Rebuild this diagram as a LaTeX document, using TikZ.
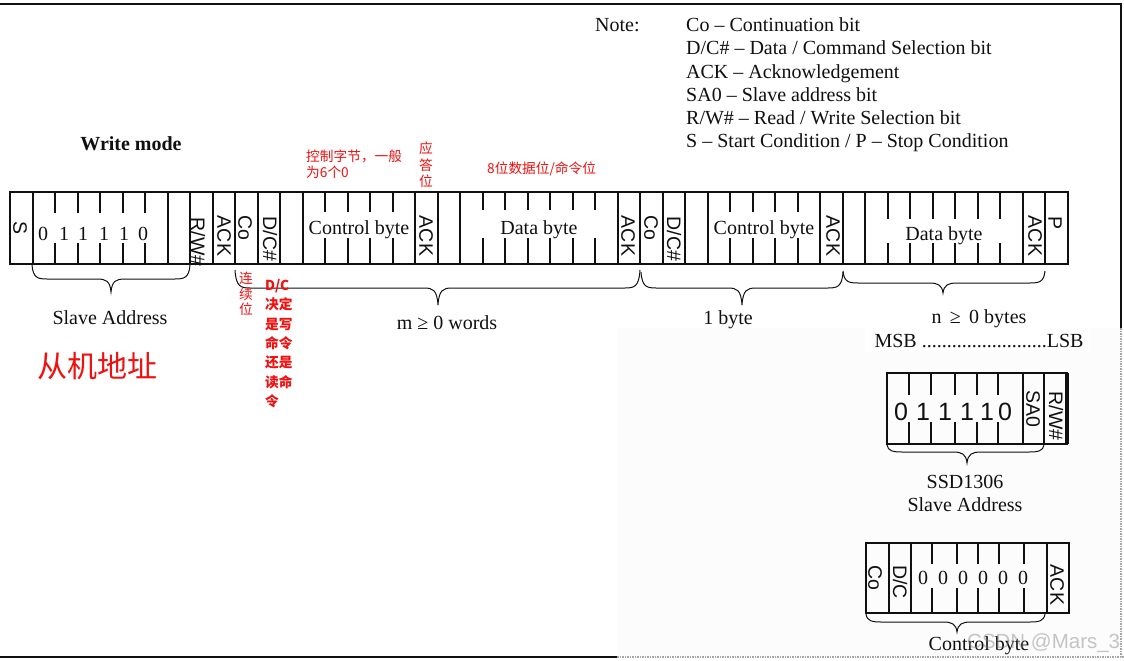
\documentclass[tikz,border=0pt]{standalone}
\usepackage{fontspec}
\setmainfont{Liberation Serif}
\newfontfamily\arialf{Liberation Sans}
\newfontfamily\cjkf{Noto Sans CJK SC}
\usetikzlibrary{calc}
\definecolor{redtxt}{HTML}{F01010}
\definecolor{ink}{HTML}{101010}
\tikzset{
  frameline/.style={draw=ink,line width=2pt},
  dotline/.style={draw=gray!70,line width=1.2pt,dash pattern=on 1.5pt off 1pt},
  barbox/.style={draw=ink,line width=2.6pt},
  tick/.style={draw=ink,line width=2pt},
  bracel/.style={draw=ink,line width=1pt},
  ser/.style={font=\fontsize{20}{23}\selectfont,text=ink,inner sep=0pt,anchor=base},
  serl/.style={ser,anchor=base west},
  rot/.style={font=\arialf\fontsize{19.5}{19.5}\selectfont,text=ink,inner sep=0pt,rotate=-90,anchor=center},
  bigd/.style={font=\arialf\fontsize{25}{25}\selectfont,text=ink,inner sep=0pt,anchor=center},
  redn/.style={font=\cjkf\fontsize{13.7}{16}\selectfont,text=redtxt,inner sep=0pt,anchor=north west,align=left},
  patch/.style={fill=white,draw=none},
}
% brace: x1 x2 xmid yend yline ytip
\newcommand{\bracep}[6]{\draw[bracel] (#1,#4) .. controls ({#1+1},{#5-1}) and ({#1+6},#5) .. ({#1+15},#5) -- ({#3-14},#5) .. controls ({#3-5},#5) and ({#3-1},{#5+2}) .. (#3,#6) .. controls ({#3+1},{#5+2}) and ({#3+5},#5) .. ({#3+14},#5) -- ({#2-15},#5) .. controls ({#2-6},#5) and ({#2-1},{#5-1}) .. (#2,#4);}
\begin{document}
\begin{tikzpicture}[x=1pt,y=-1pt]
\useasboundingbox (0,0) rectangle (1124,661);
\fill[white] (0,0) rectangle (1124,661);
\fill[black!1] (617,328) rectangle (1121,657);
\fill[white] (865,327) rectangle (1090,352);
% frame
\draw[frameline] (0,4) -- (1121,4) -- (1121,328);
\draw[frameline] (0,657) -- (617,657);
\draw[dotline] (1121,328) -- (1121,657);
\draw[dotline] (617,657) -- (1124,657);
% main bar
\foreach \i in {1,7,8,...,13,18,19,20,27,28,...,31,36,37,38,45,46}
  {\pgfmathsetmacro{\xx}{10+22.51*\i}\draw[tick] (\xx,192) -- (\xx,264);}
\foreach \i in {2,...,6}
  {\pgfmathsetmacro{\xx}{10+22.51*\i}\draw[tick] (\xx,192) -- (\xx,213);\draw[tick] (\xx,243) -- (\xx,264);}
\foreach \i in {14,...,17,32,33,34,35}
  {\pgfmathsetmacro{\xx}{10+22.51*\i}\draw[tick] (\xx,192) -- (\xx,212);\draw[tick] (\xx,238) -- (\xx,264);}
\foreach \i in {21,...,26}
  {\pgfmathsetmacro{\xx}{10+22.51*\i}\draw[tick] (\xx,192) -- (\xx,210);\draw[tick] (\xx,238) -- (\xx,264);}
\foreach \i in {39,...,44}
  {\pgfmathsetmacro{\xx}{10+22.51*\i}\draw[tick] (\xx,192) -- (\xx,219);\draw[tick] (\xx,243) -- (\xx,264);}
\draw[barbox] (10,192) rectangle (1068,264);
% main bar labels
\node[rot] (s) at (20,228) {S};
\foreach \x/\d/\n in {43/0/a,64/1/b,83/1/c,104/1/d,124/1/e,143/0/f}
  \node[ser] (bit\n) at (\x,240) {\d};
\node[rot] (rw) at (198,242) {R/W\#};
\node[rot] (ack1) at (224,236) {ACK};
\node[rot] (co1) at (245,228) {Co};
\node[rot] (dc1) at (270,239) {D/C\#};
\node[ser] (cb1) at (359,234) {Control byte};
\node[rot] (ack2) at (426,236) {ACK};
\node[ser] (db1) at (539,234) {Data byte};
\node[rot] (ack3) at (628,236) {ACK};
\node[rot] (co2) at (651,228) {Co};
\node[rot] (dc2) at (674,239) {D/C\#};
\node[ser] (cb2) at (764,234) {Control byte};
\node[rot] (ack4) at (833,236) {ACK};
\node[ser] (db2) at (944,240) {Data byte};
\node[rot] (ack5) at (1035,236) {ACK};
\node[rot] (pp) at (1055,223) {P};
% braces
\bracep{32}{190}{111}{265}{279}{292}
\bracep{235}{640}{438}{270}{288}{305}
\bracep{641}{843}{742}{272}{288}{305}
\bracep{843}{1045}{943}{271}{283}{293}
\bracep{887}{1044}{967}{445}{452}{463}
\bracep{866}{1045}{957}{614}{622}{632}
% main text
\node[ser,font=\bfseries\fontsize{20}{23}\selectfont] (wm) at (131,150) {Write mode};
\node[ser] (sa) at (110,324) {Slave Address};
\node[ser] (mw) at (447,329) {m ≥ 0 words};
\node[ser] (ob) at (728,324) {1 byte};
\node[ser] (nb) at (979,323) {n\, ≥\, 0 bytes};
\node[ser] (msb) at (979,347) {MSB .........................LSB};
% notes
\node[serl] (note) at (595,32) {Note:};
\node[serl] (n1) at (686,32) {Co – Continuation bit};
\node[serl] (n2) at (686,55) {D/C\# – Data / Command Selection bit};
\node[serl] (n3) at (686,78) {ACK – Acknowledgement};
\node[serl] (n4) at (686,101) {SA0 – Slave address bit};
\node[serl] (n5) at (686,124) {R/W\# – Read / Write Selection bit};
\node[serl] (n6) at (686,147) {S – Start Condition / P – Stop Condition};
% slave address bar
\foreach \x in {909,931,955,977,998}
  {\draw[tick] (\x,373) -- (\x,395);\draw[tick] (\x,422) -- (\x,444);}
\foreach \x in {1023,1044} {\draw[tick] (\x,373) -- (\x,444);}
\draw[barbox] (887,373) rectangle (1067,444);
\draw[tick,line width=3.4pt] (1067,373) -- (1067,444);
\foreach \x/\d/\n in {901/0/a,923/1/b,945/1/c,967/1/d,987/1/e,1005/0/f}
  \node[bigd] (sbit\n) at (\x,412) {\d};
\node[rot] (sa0) at (1033,409) {SA0};
\node[rot] (srw) at (1056,416) {R/W\#};
\node[ser] (ssd) at (965,488) {SSD1306};
\node[ser] (ssa) at (965,511) {Slave Address};
% control byte bar
\foreach \x in {889,911,1047} {\draw[tick] (\x,543) -- (\x,613);}
\foreach \x in {932,957,978,999,1024}
  {\draw[tick] (\x,543) -- (\x,564);\draw[tick] (\x,588) -- (\x,613);}
\draw[barbox] (866,543) rectangle (1069,613);
\node[rot] (co3) at (875,578) {Co};
\node[rot] (dc3) at (900,582) {D/C};
\foreach \x/\n in {923/a,943/b,963/c,983/d,1003/e,1023/f}
  \node[ser] (cbit\n) at (\x,584) {0};
\node[rot] (ack6) at (1057,585) {ACK};
\node[ser] (cbl) at (979,650) {Control byte};
% red annotations
\node[redn] (r1) at (306,150) {控制字节，一般\\为6个0};
\node[redn,align=center,anchor=north,font=\cjkf\fontsize{13.7}{16.5}\selectfont] (r2) at (426,142) {应\\答\\位};
\node[redn] (r3) at (487,162) {8位数据位/命令位};
\node[redn,align=center,anchor=north,font=\cjkf\fontsize{13.7}{15.5}\selectfont] (r4) at (246,272) {连\\续\\位};
\node[redn,font=\cjkf\bfseries\fontsize{13.7}{19.4}\selectfont] (r5) at (265,279) {D/C\\决定\\是写\\命令\\还是\\读命\\令};
\node[redn,anchor=center,font=\cjkf\fontsize{30}{30}\selectfont] (r6) at (97.5,366) {从机地址};
% watermark
\node[font=\arialf\fontsize{20.5}{21}\selectfont,text=gray,opacity=0.45,inner sep=0pt,anchor=base west] (wm2) at (967,648) {CSDN @Mars\_3};
\end{tikzpicture}
\end{document}
